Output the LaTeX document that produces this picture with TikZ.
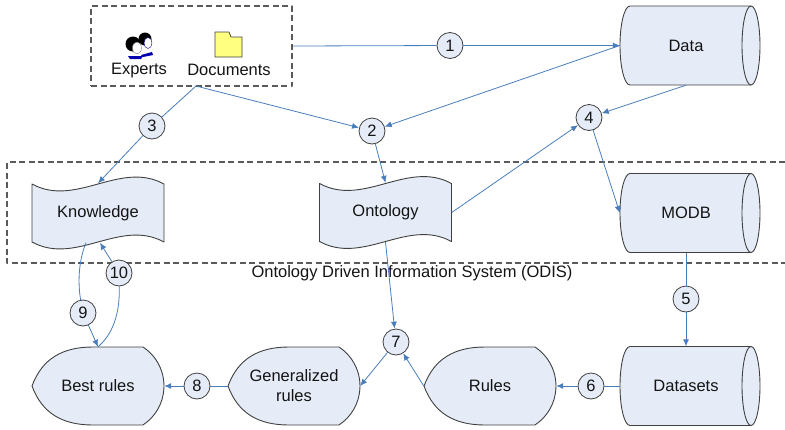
\documentclass[tikz,border=0pt]{standalone}
\usepackage{fontspec}
\setmainfont{Liberation Sans}
\usetikzlibrary{arrows.meta}
\definecolor{linkblue}{RGB}{74,126,187}
\definecolor{shapefill}{RGB}{229,236,247}
\definecolor{edgegrey}{RGB}{64,64,64}
\definecolor{boxgrey}{RGB}{90,90,90}
\definecolor{textblack}{RGB}{20,20,20}
\definecolor{folderyellow}{RGB}{255,255,128}
% storage drum, tape and display shapes (#1 name, #2 centre, #3 text)
\newcommand{\storenode}[3]{%
  \begin{scope}[shift={(#2)}]
    \draw[shapeline] (-56,-39.5) -- (65,-39.5)
      arc[start angle=-90, end angle=90, x radius=9, y radius=39.5]
      -- (-56,39.5)
      arc[start angle=90, end angle=270, x radius=10, y radius=39.5] -- cycle;
    \draw[shapeline, fill=none] (65,-39.5)
      arc[start angle=270, end angle=90, x radius=9, y radius=39.5];
  \end{scope}
  \node[boxtext, minimum width=132pt, minimum height=79pt] (#1) at (#2) {#3};}
\newcommand{\tapenode}[3]{%
  \draw[shapeline, shift={(#2)}] (-66,-29) .. controls (-22,-5) and (22,-53) .. (66,-29)
    -- (66,29) .. controls (22,5) and (-22,53) .. (-66,29) -- cycle;
  \node[boxtext, minimum width=132pt, minimum height=59pt] (#1) at (#2) {#3};}
\newcommand{\shownode}[3]{%
  \draw[shapeline, shift={(#2)}] (-66,0) .. controls (-56,-27) and (-36,-39) .. (-5,-39)
    -- (45,-39) arc[start angle=-56.6, end angle=56.6, radius=46.7]
    -- (-5,39) .. controls (-36,39) and (-56,27) .. (-66,0) -- cycle;
  \node[boxtext, minimum width=132pt, minimum height=78pt] (#1) at (#2) {#3};}
\begin{document}
\begin{tikzpicture}[x=1pt, y=-1pt, >={Latex[length=7pt,width=6pt]}, line join=round,
  shapeline/.style={draw=edgegrey, fill=shapefill, line width=0.9pt},
  boxtext/.style={font=\fontsize{16.5}{20}\selectfont, inner sep=0pt, text=textblack, align=center},
  num/.style={circle, draw=edgegrey, fill=shapefill, line width=0.8pt, minimum size=26pt,
    inner sep=0pt, text=textblack, font=\fontsize{16.5}{20}\selectfont},
  link/.style={draw=linkblue, line width=0.8pt},
  dashbox/.style={draw=boxgrey, line width=1.2pt, dash pattern=on 6pt off 3.5pt}]
\useasboundingbox (0,0) rectangle (785,429);
% sources
\node[dashbox, minimum width=201pt, minimum height=80pt] (src) at (191.5,46) {};
\fill[black] (145,39) circle (6.5);
\filldraw[fill=white, draw=blue!50!black, line width=0.4pt] (148,43) ellipse (4 and 5.5);
\fill[blue!70!black] (141,55) -- (152,52) -- (153,55) -- (143,57) -- cycle;
\fill[black] (133,44) circle (7.5);
\filldraw[fill=white, draw=gray, line width=0.4pt] (137,48) ellipse (4.5 and 6);
\fill[blue!70!black] (128,56) -- (143,56) -- (141,59) -- (130,59) -- cycle;
\filldraw[fill=folderyellow, draw=edgegrey, line width=0.8pt]
  (215,32) -- (229,32) -- (231,37) -- (242,37) -- (242,57) -- (215,57) -- cycle;
\node[boxtext] (experts) at (139,71) {Experts};
\node[boxtext] (docs) at (229,70) {Documents};
\coordinate (srcout) at (196,86);
% system frame
\draw[dashbox] (785,162) -- (7,162) -- (7,263) -- (785,263);
\node[boxtext] (odis) at (412,273) {Ontology Driven Information System (ODIS)};
% stores and documents
\storenode{data}{686,45.5}{Data}
\storenode{modb}{686,213}{MODB}
\storenode{sets}{686,386}{Datasets}
\tapenode{know}{98,213}{Knowledge}
\tapenode{onto}{385.5,212.5}{Ontology}
\shownode{best}{98,386}{Best rules}
\shownode{gen}{294,386}{Generalized\\rules}
\shownode{rules}{490,386}{Rules}
% steps
\node[num] (c1) at (450,45.5) {1};
\node[num] (c2) at (372,131) {2};
\node[num] (c3) at (152,126) {3};
\node[num] (c4) at (589,117.5) {4};
\node[num] (c5) at (686,299) {5};
\node[num] (c6) at (591,386) {6};
\node[num] (c7) at (396,342) {7};
\node[num] (c8) at (197,386) {8};
\node[num] (c9) at (83,313) {9};
\node[num] (c10) at (119,273) {10};
% links
\draw[link] (src.east) -- (c1);
\draw[link,->] (c1) -- (data.west);
\draw[link] (srcout) -- (c3);
\draw[link,->] (c3) -- (know.north);
\draw[link,->] (srcout) -- (c2);
\draw[link,->] (data.west) -- (c2);
\draw[link,->] (c2) -- (onto.north);
\draw[link,->] (data.south) -- (c4);
\draw[link,->] (onto.east) -- (c4);
\draw[link,->] (c4) -- (modb.west);
\draw[link] (modb.south) -- (c5);
\draw[link,->] (c5) -- (sets.north);
\draw[link] (sets.west) -- (c6);
\draw[link,->] (c6) -- (rules.east);
\draw[link,->] (onto.south) -- (c7);
\draw[link,->] (rules.west) -- (c7);
\draw[link,->] (c7) -- (gen.east);
\draw[link] (gen.west) -- (c8);
\draw[link,->] (c8) -- (best.east);
\draw[link] ([xshift=-12pt]know.south) .. controls (78,262) and (78,285) .. (c9);
\draw[link,->] (c9) -- (best.north);
\draw[link] (best.north) .. controls (112,335) and (120,315) .. (c10);
\draw[link,->] (c10) -- ([xshift=2pt]know.south);
\end{tikzpicture}
\end{document}
